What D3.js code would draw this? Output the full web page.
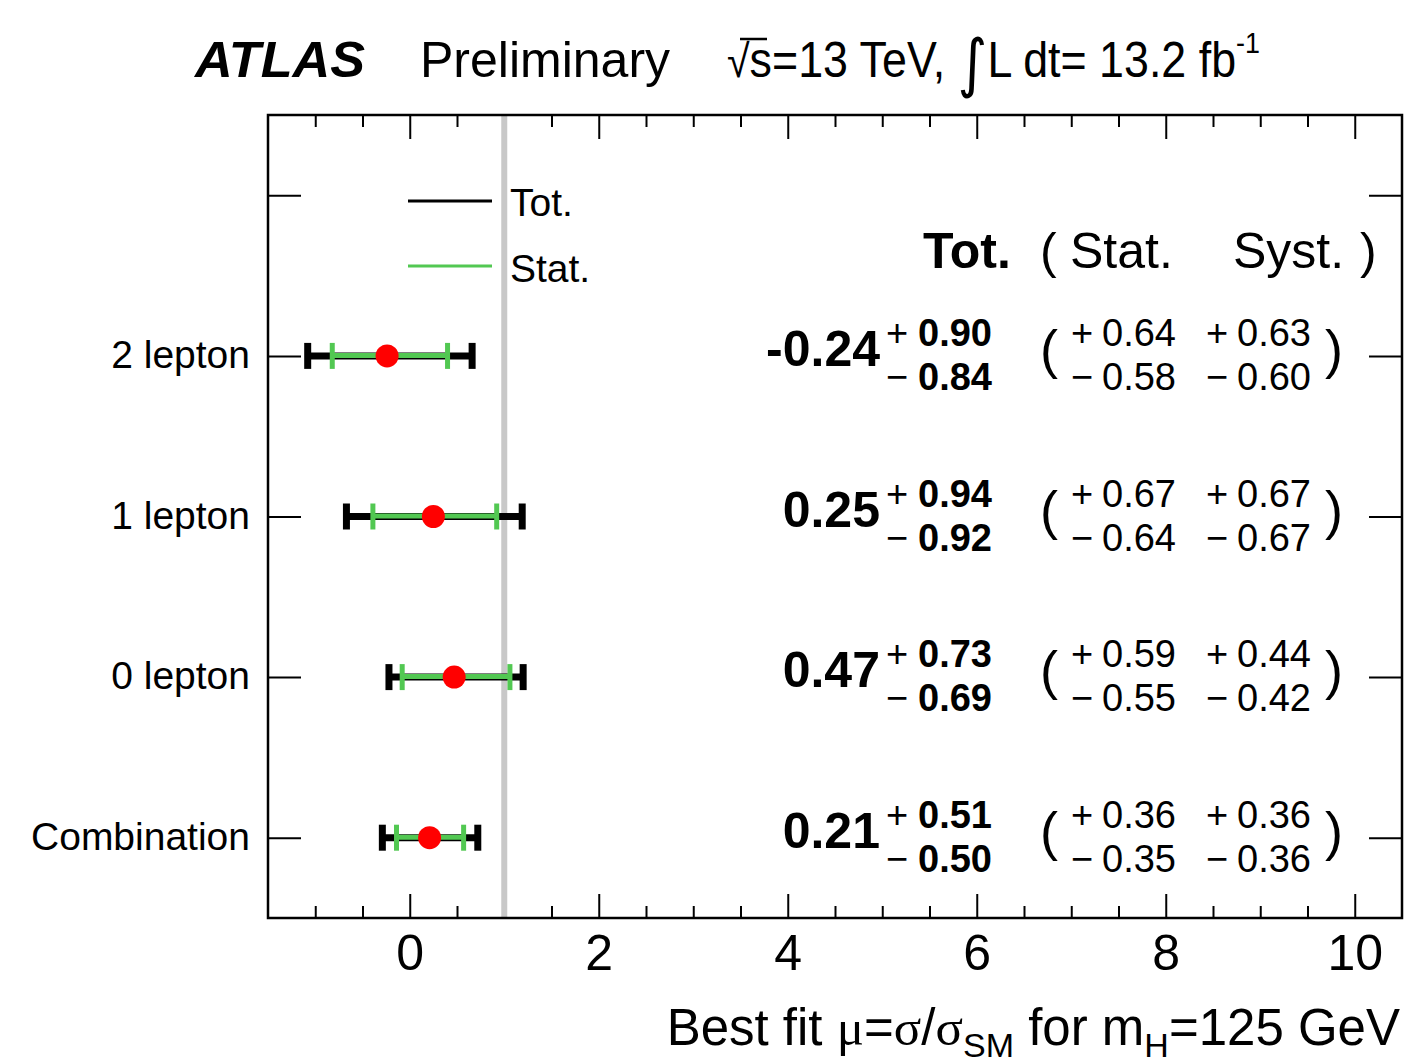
<!DOCTYPE html>
<html><head><meta charset="utf-8">
<script src="https://cdn.jsdelivr.net/npm/d3@7"></script>
<style>
html,body{margin:0;padding:0;background:#fff;}
text{font-family:"Liberation Sans",Arial,Helvetica,sans-serif;fill:#000;}
</style></head>
<body>
<svg id="chart" width="1405" height="1061"></svg>
<script>
// ---- data ----
const categories = ["2 lepton", "1 lepton", "0 lepton", "Combination"];
const muValues   = [-0.24, 0.25, 0.47, 0.21];
const totUp      = [0.90, 0.94, 0.73, 0.51];
const totDown    = [0.84, 0.92, 0.69, 0.50];
const statUp     = [0.64, 0.67, 0.59, 0.36];
const statDown   = [0.58, 0.64, 0.55, 0.35];
const systUp     = [0.63, 0.67, 0.44, 0.36];
const systDown   = [0.60, 0.67, 0.42, 0.36];
const majorTicks = [0, 2, 4, 6, 8, 10];
const minorTicks = [-1, -0.5, 0.5, 1, 1.5, 2.5, 3, 3.5, 4.5, 5, 5.5, 6.5, 7, 7.5, 8.5, 9, 9.5];
const smValue = 1;
const xDomain = [-1.5, 10.5];

// ---- layout ----
const svg = d3.select("#chart");
const L = 268, R = 1402, T = 115, B = 918;
const x = d3.scaleLinear().domain(xDomain).range([L, R]);
const yDomain = [""].concat(categories);
const y = d3.scalePoint().domain(yDomain).range([T, B]).padding(0.5);

const GREEN = "#52c852";
const GRAY = "#c8c8c8";

function styleAxis(g){
  g.select(".domain").remove();
  g.selectAll(".tick line").attr("stroke","#000").attr("stroke-width",2);
  g.selectAll(".tick text").attr("font-family",'"Liberation Sans",Arial,sans-serif').attr("fill","#000");
}
// bottom
svg.append("g").attr("transform",`translate(0,${B})`)
  .call(d3.axisBottom(x).tickValues(minorTicks).tickSize(-12).tickFormat(""))
  .call(styleAxis);
svg.append("g").attr("transform",`translate(0,${B})`)
  .call(d3.axisBottom(x).tickValues(majorTicks).tickSizeInner(-24).tickSizeOuter(0).tickPadding(16).tickFormat(d3.format("d")))
  .call(styleAxis)
  .selectAll(".tick text").attr("font-size",50);
// top
svg.append("g").attr("transform",`translate(0,${T})`)
  .call(d3.axisTop(x).tickValues(minorTicks).tickSize(-12).tickFormat(""))
  .call(styleAxis);
svg.append("g").attr("transform",`translate(0,${T})`)
  .call(d3.axisTop(x).tickValues(majorTicks).tickSize(-24).tickFormat(""))
  .call(styleAxis);
// left
svg.append("g").attr("transform",`translate(${L},0)`)
  .call(d3.axisLeft(y).tickSizeInner(-33).tickSizeOuter(0).tickPadding(18))
  .call(styleAxis)
  .selectAll(".tick text").attr("font-size",39).attr("dy","0.3em");
// right
svg.append("g").attr("transform",`translate(${R},0)`)
  .call(d3.axisRight(y).tickSizeInner(-33).tickSizeOuter(0).tickFormat(""))
  .call(styleAxis);

// SM line
svg.append("line").attr("x1",x(smValue)).attr("x2",x(smValue)).attr("y1",T).attr("y2",B)
  .attr("stroke",GRAY).attr("stroke-width",6);

// frame
svg.append("rect").attr("x",L).attr("y",T).attr("width",R-L).attr("height",B-T)
  .attr("fill","none").attr("stroke","#000").attr("stroke-width",2.5);

// error bars
const rows = categories.map((c,i)=>({c, mu:muValues[i], tu:totUp[i], td:totDown[i], su:statUp[i], sd:statDown[i], yu:systUp[i], yd:systDown[i]}));
const capH = 13;
const eb = svg.append("g");
rows.forEach(r=>{
  const yy = y(r.c);
  const g = eb.append("g");
  g.append("line").attr("x1",x(r.mu-r.td)).attr("x2",x(r.mu+r.tu)).attr("y1",yy).attr("y2",yy)
    .attr("stroke","#000").attr("stroke-width",7);
  [r.mu-r.td, r.mu+r.tu].forEach(v=>{
    g.append("line").attr("x1",x(v)).attr("x2",x(v)).attr("y1",yy-capH).attr("y2",yy+capH)
      .attr("stroke","#000").attr("stroke-width",7);
  });
  g.append("line").attr("x1",x(r.mu-r.sd)).attr("x2",x(r.mu+r.su)).attr("y1",yy-0.5).attr("y2",yy-0.5)
    .attr("stroke",GREEN).attr("stroke-width",5);
  [r.mu-r.sd, r.mu+r.su].forEach(v=>{
    g.append("line").attr("x1",x(v)).attr("x2",x(v)).attr("y1",yy-capH).attr("y2",yy+capH)
      .attr("stroke",GREEN).attr("stroke-width",5);
  });
  g.append("circle").attr("cx",x(r.mu)).attr("cy",yy).attr("r",11.5).attr("fill","#ff0000");
});

// legend
svg.append("line").attr("x1",408).attr("x2",492).attr("y1",201).attr("y2",201).attr("stroke","#000").attr("stroke-width",3);
svg.append("line").attr("x1",408).attr("x2",492).attr("y1",266).attr("y2",266).attr("stroke",GREEN).attr("stroke-width",3);
svg.append("text").attr("x",510).attr("y",216).attr("font-size",39).text("Tot.");
svg.append("text").attr("x",510).attr("y",282).attr("font-size",39).text("Stat.");

// table header
svg.append("text").attr("x",923).attr("y",268).attr("font-size",50).attr("font-weight","bold").text("Tot.");
svg.append("text").attr("x",1040).attr("y",268).attr("font-size",50).text("(");
svg.append("text").attr("x",1070).attr("y",268).attr("font-size",50).text("Stat.");
svg.append("text").attr("x",1233).attr("y",268).attr("font-size",50).text("Syst.");
svg.append("text").attr("x",1360).attr("y",268).attr("font-size",50).text(")");

// table rows
const fmt = v => d3.format(".2f")(v).replace("\u2212","-");
rows.forEach(r=>{
  const yy = y(r.c);
  const g = svg.append("g");
  g.append("text").attr("x",880).attr("y",yy+10).attr("text-anchor","end").attr("font-size",50).attr("font-weight","bold").text(fmt(r.mu));
  g.append("text").attr("x",886).attr("y",yy-10).attr("font-size",38).text("+");
  g.append("text").attr("x",886).attr("y",yy+34).attr("font-size",38).text("\u2212");
  g.append("text").attr("x",918).attr("y",yy-10).attr("font-size",38).attr("font-weight","bold").text(fmt(r.tu));
  g.append("text").attr("x",918).attr("y",yy+34).attr("font-size",38).attr("font-weight","bold").text(fmt(r.td));
  g.append("text").attr("x",1040).attr("y",yy+12).attr("font-size",54).text("(");
  g.append("text").attr("x",1071).attr("y",yy-10).attr("font-size",38).text("+");
  g.append("text").attr("x",1071).attr("y",yy+34).attr("font-size",38).text("\u2212");
  g.append("text").attr("x",1102).attr("y",yy-10).attr("font-size",38).text(fmt(r.su));
  g.append("text").attr("x",1102).attr("y",yy+34).attr("font-size",38).text(fmt(r.sd));
  g.append("text").attr("x",1206).attr("y",yy-10).attr("font-size",38).text("+");
  g.append("text").attr("x",1206).attr("y",yy+34).attr("font-size",38).text("\u2212");
  g.append("text").attr("x",1237).attr("y",yy-10).attr("font-size",38).text(fmt(r.yu));
  g.append("text").attr("x",1237).attr("y",yy+34).attr("font-size",38).text(fmt(r.yd));
  g.append("text").attr("x",1325).attr("y",yy+12).attr("font-size",54).text(")");
});

// title
svg.append("text").attr("x",195).attr("y",77).attr("font-size",50).attr("font-weight","bold").attr("font-style","italic")
  .attr("textLength",170).attr("lengthAdjust","spacingAndGlyphs").text("ATLAS");
svg.append("text").attr("x",420).attr("y",77).attr("font-size",50).text("Preliminary");
const t = svg.append("text").attr("x",727).attr("y",77).attr("font-size",50)
  .attr("textLength",533).attr("lengthAdjust","spacingAndGlyphs");
t.append("tspan").attr("font-size",46).text("\u221A");
t.append("tspan").text("s=13 TeV, ");
t.append("tspan").attr("font-family","DejaVu Sans").attr("font-size",64).attr("dy",8).text("\u222B");
t.append("tspan").attr("dy",-8).text("L dt= 13.2 fb");
t.append("tspan").attr("font-size",30).attr("dy",-24).text("-1");
// radical bar over s
svg.append("line").attr("x1",740).attr("x2",767).attr("y1",39).attr("y2",39).attr("stroke","#000").attr("stroke-width",2.5);

// x axis title
const xt = svg.append("text").attr("x",1400).attr("y",1045).attr("text-anchor","end").attr("font-size",51);
xt.append("tspan").text("Best fit ");
xt.append("tspan").attr("font-family","Liberation Serif").text("\u03BC");
xt.append("tspan").text("=");
xt.append("tspan").attr("font-family","Liberation Serif").text("\u03C3");
xt.append("tspan").text("/");
xt.append("tspan").attr("font-family","Liberation Serif").text("\u03C3");
xt.append("tspan").attr("font-size",34).attr("dy",12).text("SM");
xt.append("tspan").attr("dy",-12).text(" for m");
xt.append("tspan").attr("font-size",34).attr("dy",12).text("H");
xt.append("tspan").attr("dy",-12).text("=125 GeV");
</script>
</body></html>
